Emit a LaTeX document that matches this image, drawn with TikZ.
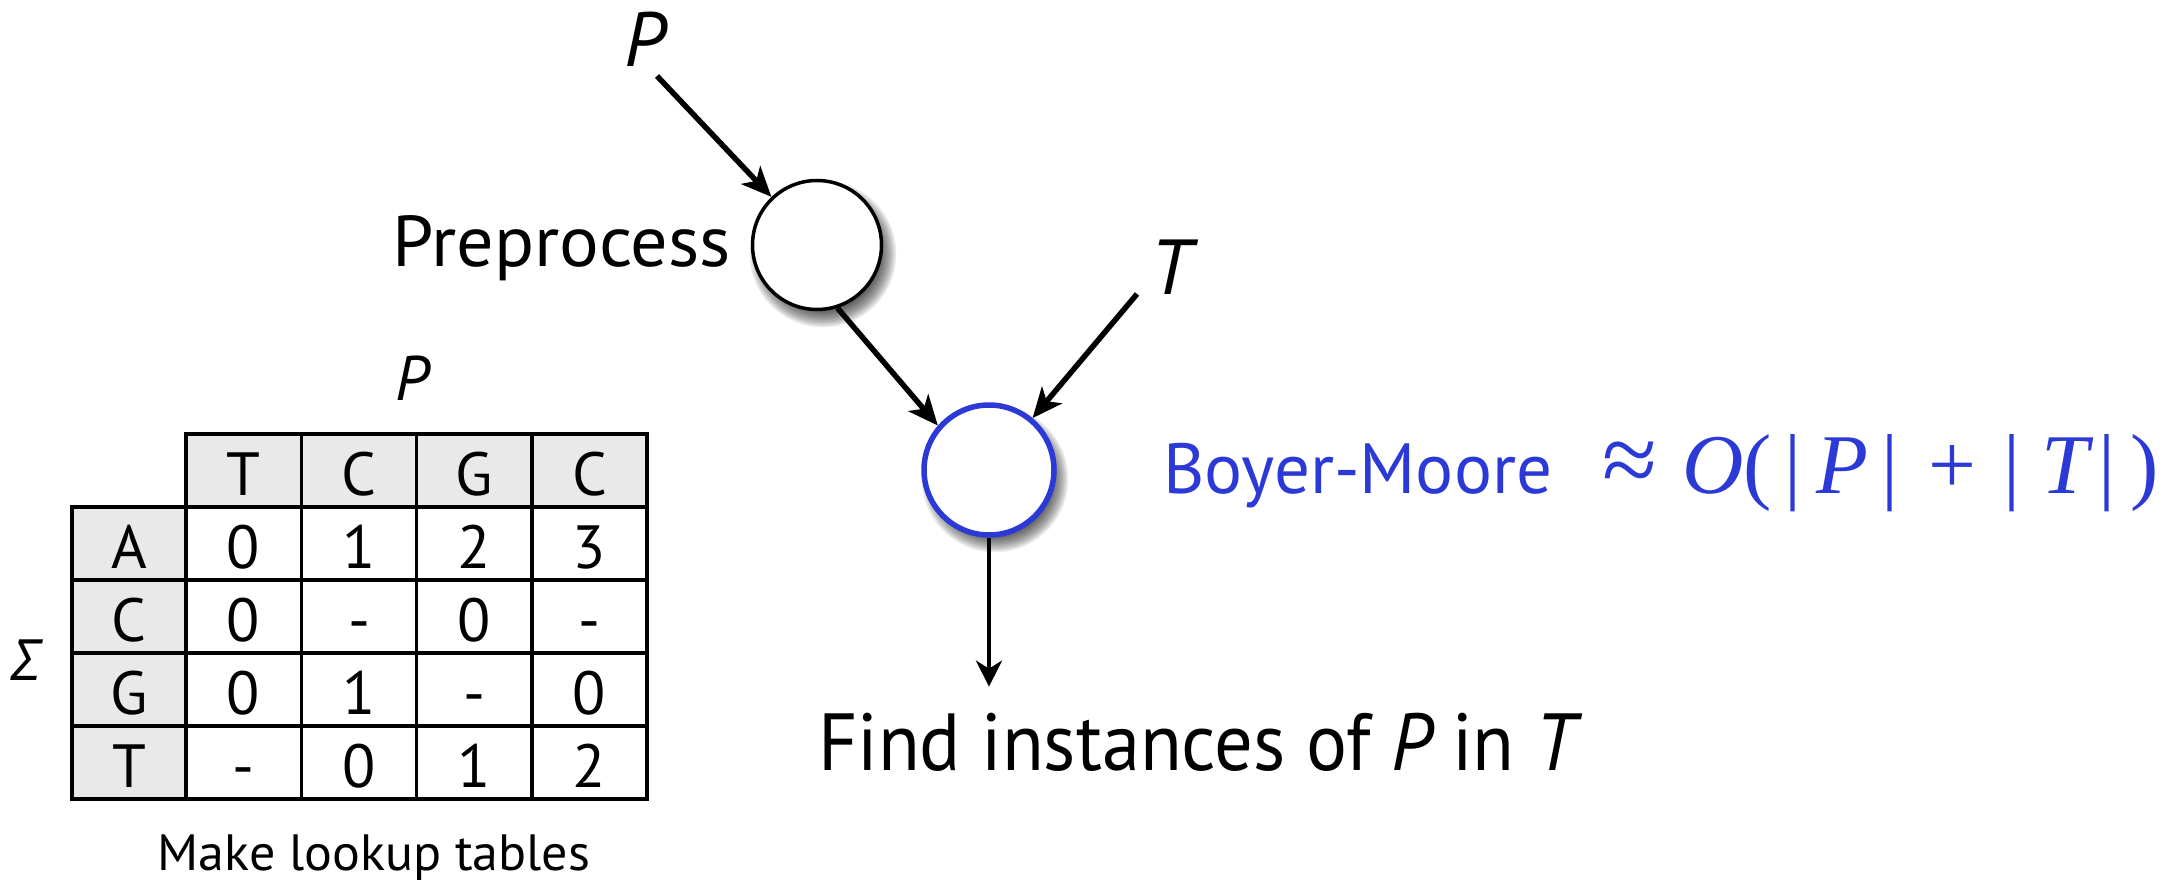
\documentclass[tikz,border=0pt]{standalone}
\usepackage{fontspec}
\setmainfont{PT Sans}
\newfontfamily\greekfont{Open Sans}
\newfontfamily\mathserif{Liberation Serif}
\usetikzlibrary{arrows.meta,calc,backgrounds}
\definecolor{bmblue}{RGB}{43,57,214}
\definecolor{cellgray}{RGB}{233,233,233}
\begin{document}
\begin{tikzpicture}[x=1pt,y=-1pt,
  lbl/.style={inner sep=0pt, outer sep=0pt, anchor=base},
  arr/.style={line width=5.5pt, -{Stealth[length=30pt,width=26pt,inset=8pt]}},
  arrthin/.style={line width=4.5pt, -{Stealth[length=26pt,width=26pt,inset=8pt]}},
  tbl/.style={line width=3.5pt, line cap=rect},
  cell/.style={lbl, font=\fontsize{61}{64}\selectfont},
  fm/.style={lbl, text=bmblue, font=\fontsize{85}{90}\mathserif},
  shadowlayer/.style={black, opacity=0.09}]
\useasboundingbox (0,0) rectangle (2164,880);

% ---- flow part ----
\node[lbl, font=\fontsize{77}{80}\selectfont\itshape] (P) at (645,67) {P};
\node[lbl, anchor=base east, font=\fontsize{72}{76}\selectfont] (prelbl) at (731,266) {\scalebox{1.03}[1]{Preprocess}};
\node[circle, draw, line width=3.5pt, fill=white, minimum size=129pt, inner sep=0pt] (pre) at (817,245) {};
\node[lbl, font=\fontsize{78}{80}\selectfont\itshape] (T) at (1171,294) {T};
\node[circle, draw=bmblue, line width=5.5pt, fill=white, minimum size=130pt, inner sep=0pt] (bm) at (989,470) {};

\begin{scope}[on background layer]
  \foreach \k in {0,...,9} {
    \fill[shadowlayer] ($(pre)+(6,9)$) circle[radius={(57+1.8*\k)*1pt}];
    \fill[shadowlayer] ($(bm)+(6,9)$) circle[radius={(57+1.8*\k)*1pt}];
  }
\end{scope}

\node[lbl, anchor=base west, text=bmblue, font=\fontsize{71}{75}\selectfont] (bmlbl) at (1163,493) {Boyer-Moore};
\node[fm, font=\fontsize{100}{100}\mathserif] (f1) at (1630,493) {≈};
\node[fm, font=\fontsize{85}{90}\mathserif\itshape] (f2) at (1713,493) {O};
\node[fm] (f3) at (1758,493) {(};
\node[fm] (f4) at (1793,493) {|};
\node[fm, font=\fontsize{85}{90}\mathserif\itshape] (f5) at (1842,493) {P};
\node[fm] (f6) at (1890,493) {|};
\node[fm] (f7) at (1952,493) {+};
\node[fm] (f8) at (2012,493) {|};
\node[fm, font=\fontsize{85}{90}\mathserif\itshape] (f9) at (2065,493) {T};
\node[fm] (f10) at (2107,493) {|};
\node[fm] (f11) at (2145,493) {)};

\node[lbl, anchor=base west, font=\fontsize{81}{85}\selectfont] (find) at (818,770) {\scalebox{0.945}[1]{Find instances of {\itshape P} in {\itshape T}}};

\draw[arr] ([xshift=12pt,yshift=-9pt]P.south) -- (pre);
\draw[arr] (pre.-72) -- (bm.139);
\draw[arr] ([xshift=-34pt]T.south) -- (bm.50);
\draw[arrthin] (bm) -- (bm |- find.north) [shorten >=26pt];

% ---- lookup table ----
\fill[cellgray] (186,434) rectangle (647,507);
\fill[cellgray] (72,507) rectangle (186,799);
\draw[tbl] (186,434) rectangle (647,799);
\draw[tbl] (72,507) rectangle (647,799);
\foreach \xx in {186,301.3,416.7,532} \draw[tbl] (\xx,434) -- (\xx,799);
\foreach \yy in {580,653,726} \draw[tbl] (72,\yy) -- (647,\yy);

\node[lbl, font=\fontsize{63}{66}\selectfont\itshape] (tP) at (412,400) {P};
\node[lbl, anchor=base west, font=\fontsize{57}{60}\greekfont\itshape] (sigma) at (12,680) {Σ};
\node[lbl, font=\fontsize{51}{54}\selectfont] (mlt) at (374,870) {\scalebox{1.02}[1]{Make lookup tables}};

\node[cell] (h1) at (243.5,495) {T};
\node[cell] (h2) at (359,495) {C};
\node[cell] (h3) at (474.5,495) {G};
\node[cell] (h4) at (589.5,495) {C};

\node[cell] (rA) at (129,568) {A};
\node[cell] (rC) at (129,641) {C};
\node[cell] (rG) at (129,714) {G};
\node[cell] (rT) at (129,787) {T};

\node[cell] (a1) at (243.5,568) {0};
\node[cell] (a2) at (359,568) {1};
\node[cell] (a3) at (474.5,568) {2};
\node[cell] (a4) at (589.5,568) {3};

\node[cell] (c1) at (243.5,641) {0};
\node[cell] (c2) at (359,641) {-};
\node[cell] (c3) at (474.5,641) {0};
\node[cell] (c4) at (589.5,641) {-};

\node[cell] (g1) at (243.5,714) {0};
\node[cell] (g2) at (359,714) {1};
\node[cell] (g3) at (474.5,714) {-};
\node[cell] (g4) at (589.5,714) {0};

\node[cell] (t1) at (243.5,787) {-};
\node[cell] (t2) at (359,787) {0};
\node[cell] (t3) at (474.5,787) {1};
\node[cell] (t4) at (589.5,787) {2};
\end{tikzpicture}
\end{document}
